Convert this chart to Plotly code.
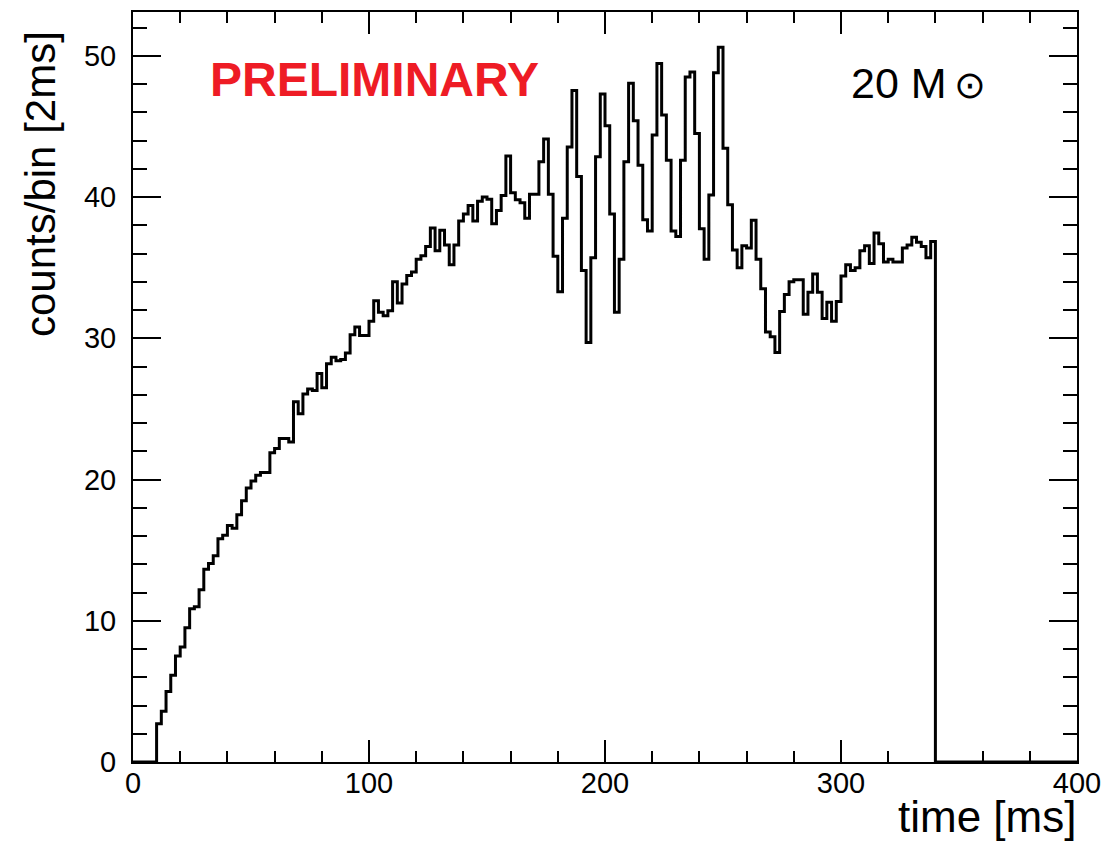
import numpy as np
import plotly.graph_objects as go

# ---- data ----
bin_width_ms = 2
x_min_ms, x_max_ms = 0, 400
first_bin_ms = 10          # first non-empty bin starts here
counts = [
    2.7, 3.6, 5.0, 6.15, 7.5, 8.15, 9.5, 10.85, 11.0, 12.2,
    13.65, 14.05, 14.6, 15.8, 16.05, 16.75, 16.55, 17.5, 18.5, 19.4,
    19.9, 20.3, 20.5, 20.5, 21.9, 22.2, 22.9, 22.9, 22.65, 25.5,
    24.65, 26.05, 26.4, 26.3, 27.5, 26.5, 28.2, 28.65, 28.4, 28.5,
    28.95, 30.25, 30.8, 30.2, 30.2, 31.2, 32.65, 31.85, 31.6, 31.95,
    34.0, 32.5, 33.85, 34.45, 34.7, 35.6, 35.85, 36.5, 37.8, 36.2,
    37.65, 36.6, 35.2, 36.6, 38.3, 38.8, 39.4, 38.3, 39.7, 40.0,
    39.85, 38.1, 39.05, 40.1, 42.9, 40.3, 39.8, 39.6, 38.5, 40.2,
    40.2, 42.5, 44.1, 40.2, 35.8, 33.3, 38.5, 43.55, 47.55, 41.45,
    34.8, 29.7, 35.7, 42.85, 47.3, 45.05, 38.8, 31.85, 35.6, 42.5,
    48.05, 45.4, 42.25, 38.4, 37.6, 44.4, 49.45, 45.8, 42.6, 37.6,
    37.2, 42.6, 48.5, 48.85, 44.5, 37.75, 35.6, 40.15, 48.8, 50.6,
    43.45, 39.45, 36.25, 35.0, 36.55, 36.4, 38.35, 35.6, 33.5, 30.45,
    30.1, 29.0, 31.9, 33.1, 34.0, 34.15, 34.15, 31.7, 33.25, 34.55,
    33.25, 31.4, 32.55, 31.2, 32.6, 34.4, 35.2, 34.8, 35.0, 36.2,
    36.55, 35.3, 37.45, 36.7, 35.4, 35.6, 35.4, 35.4, 36.4, 36.6,
    37.15, 36.8, 36.5, 35.7, 36.85,
]
x_ticks = [0, 100, 200, 300, 400]
y_ticks = [0, 10, 20, 30, 40, 50]
x_title = "time [ms]"
y_title = "counts/bin [2ms]"
label_prelim = "PRELIMINARY"
label_mass = "20 M<span style='font-size:38px'>\u2009\u2299</span>"

# ---- build full histogram (empty bins are zero) ----
edges = np.arange(x_min_ms, x_max_ms + bin_width_ms, bin_width_ms)
n_bins = len(edges) - 1
hist = np.zeros(n_bins)
i0 = (first_bin_ms - x_min_ms) // bin_width_ms
hist[i0:i0 + len(counts)] = counts

xs = list(edges)
ys = list(hist) + [hist[-1]]

FONT = "Liberation Sans, Arial, Helvetica, sans-serif"

fig = go.Figure()
fig.add_trace(go.Scatter(
    x=xs, y=ys, mode="lines", line_shape="hv",
    line=dict(color="black", width=3),
    showlegend=False, hoverinfo="skip",
))

axis_common = dict(
    showgrid=False, zeroline=False,
    showline=True, linecolor="black", linewidth=2,
    mirror="ticks", ticks="inside", tickcolor="black",
    tickfont=dict(family=FONT, size=29, color="black"),
)

fig.update_xaxes(
    range=[x_min_ms, x_max_ms], tickvals=x_ticks,
    ticklen=22, tickwidth=1.5, ticklabelstandoff=-6,
    minor=dict(ticks="inside", ticklen=11, dtick=20, tickcolor="black", tickwidth=1.5),
    **axis_common,
)
fig.update_yaxes(
    range=[0, 53.1], tickvals=y_ticks,
    ticklen=28, tickwidth=1.5, ticklabelstandoff=9,
    minor=dict(ticks="inside", ticklen=14, dtick=2, tickcolor="black", tickwidth=1.5),
    **axis_common,
)

fig.add_annotation(
    text=label_prelim, x=31.8, y=48.3, xref="x", yref="y",
    xanchor="left", yanchor="middle", showarrow=False,
    font=dict(family=FONT, size=48, color="#EE1C25", weight="bold"),
)
fig.add_annotation(
    text=label_mass, x=303.5, y=48.1, xref="x", yref="y",
    xanchor="left", yanchor="middle", showarrow=False,
    font=dict(family=FONT, size=43, color="black"),
)
fig.add_annotation(
    text=x_title, x=1.0, y=-0.107, xref="paper", yref="paper",
    xanchor="right", yanchor="bottom", showarrow=False, borderpad=0,
    font=dict(family=FONT, size=44, color="black"),
)
fig.add_annotation(
    text=y_title, x=-0.098, y=0.978, xref="paper", yref="paper",
    xanchor="center", yanchor="top", textangle=-90, showarrow=False,
    font=dict(family=FONT, size=42, color="black"),
)

fig.update_layout(
    width=1102, height=835,
    margin=dict(l=125, r=33, t=4, b=81, autoexpand=False),
    paper_bgcolor="white", plot_bgcolor="white",
    font=dict(family=FONT, color="black"),
)

fig.write_html("out.html")
